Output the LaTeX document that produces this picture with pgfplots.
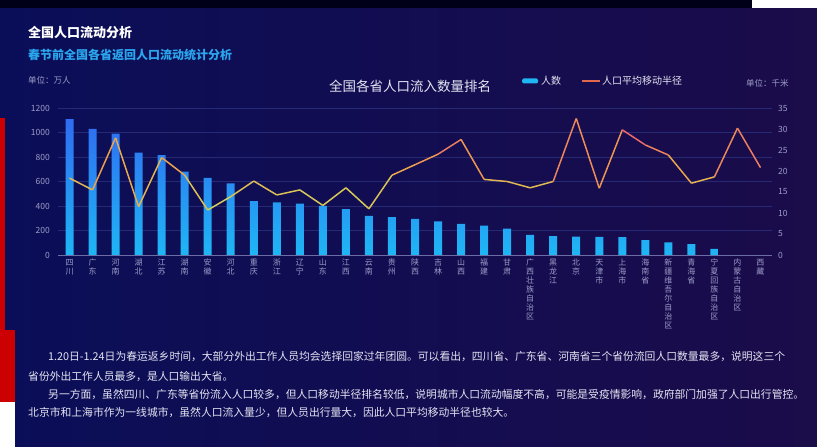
\documentclass[border=0pt]{standalone}
\usepackage{fontspec}
\setmainfont{Noto Sans CJK SC}
\usepackage{pgfplots}
\usepackage{pgfplotstable}
\pgfplotsset{compat=1.18}

\definecolor{bgL}{HTML}{0A0E58}
\definecolor{bgR}{HTML}{1B0C4A}
\definecolor{barTop}{HTML}{2F6CF2}
\definecolor{barBot}{HTML}{1FB6F4}
\definecolor{tickcol}{HTML}{9C9CC8}
\definecolor{gridcol}{HTML}{262A74}
\definecolor{axiscol}{HTML}{6C6CA6}
\definecolor{subcol}{HTML}{2AA6EE}
\definecolor{txtcol}{HTML}{E4E4F2}
\definecolor{legline}{HTML}{E0684E}

\pgfplotsset{colormap={radius}{rgb255=(206,214,92) rgb255=(238,160,76) rgb255=(232,72,128)}}

% x: rank, bar: people (10k), r: mean moving radius (km)
\pgfplotstableread{
x  bar   r
0  1110  18.3
1  1030  15.5
2  990   27.9
3  835   11.5
4  815   23.2
5  680   19.0
6  630   10.7
7  585   13.9
8  440   17.6
9  430   14.3
10 420   15.5
11 400   11.8
12 375   16.0
13 320   11.0
14 310   19.0
15 295   21.5
16 275   24.0
17 255   27.5
18 240   18.0
19 215   17.5
20 165   16.0
21 155   17.5
22 150   32.5
23 148   15.9
24 145   29.8
25 122   26.2
26 103   23.8
27 88    17.1
28 50    18.6
29 nan   30.2
30 nan   20.8
}\datatable

\begin{document}
\begin{tikzpicture}
\useasboundingbox (0,0) rectangle (817bp,447bp);
% background panel and screenshot edges
\shade[left color=bgL, right color=bgR] (0,0) rectangle (817bp,447bp);
\fill[black!90!blue] (0,439bp) rectangle (817bp,447bp);
\fill[white] (752bp,439bp) rectangle (817bp,447bp);
\fill[red!80!black] (0,117bp) rectangle (5bp,329bp);
\fill[red!80!black] (0,45bp) rectangle (15bp,117bp);
\fill[white] (0,0) rectangle (15bp,45bp);

% headings
\node[anchor=base west, inner sep=0, text=white, font=\fontsize{13bp}{15bp}\selectfont\bfseries] at (28bp,409bp) {全国人口流动分析};
\node[anchor=base west, inner sep=0, text=subcol, font=\fontsize{12bp}{14bp}\selectfont\bfseries] at (28bp,387bp) {春节前全国各省返回人口流动统计分析};
\node[anchor=base west, inner sep=0, text=tickcol, font=\fontsize{8.5bp}{10bp}\selectfont] at (28bp,363.5bp) {单位：万人};
\node[anchor=base, inner sep=0, text=txtcol, font=\fontsize{13.5bp}{15bp}\selectfont] at (410bp,355bp) {全国各省人口流入数量排名};
\node[anchor=base west, inner sep=0, text=tickcol, font=\fontsize{8.5bp}{10bp}\selectfont] at (746bp,360.5bp) {单位：千米};

% legend
\fill[barBot, rounded corners=1.5bp] (522bp,363.5bp) rectangle (538bp,368.5bp);
\node[anchor=base west, inner sep=0, text=txtcol, font=\fontsize{10bp}{12bp}\selectfont] at (541bp,362bp) {人数};
\draw[legline, line width=1.5bp] (582bp,366bp) -- (600bp,366bp);
\node[anchor=base west, inner sep=0, text=txtcol, font=\fontsize{10bp}{12bp}\selectfont] at (602bp,362bp) {人口平均移动半径};

% bars: people
\begin{axis}[
  at={(58bp,192bp)}, anchor=south west, scale only axis,
  width=714bp, height=147bp,
  xmin=-0.5, xmax=30.5, ymin=0, ymax=1200,
  axis x line*=bottom, axis y line*=left,
  separate axis lines,
  x axis line style={draw=axiscol, line width=0.6bp, -},
  y axis line style={draw=none},
  major tick length=0pt,
  xtick={0,...,30},
  xticklabels={{四\\川},{广\\东},{河\\南},{湖\\北},{江\\苏},{湖\\南},{安\\徽},{河\\北},{重\\庆},{浙\\江},{辽\\宁},{山\\东},{江\\西},{云\\南},{贵\\州},{陕\\西},{吉\\林},{山\\西},{福\\建},{甘\\肃},{广\\西\\壮\\族\\自\\治\\区},{黑\\龙\\江},{北\\京},{天\\津\\市},{上\\海\\市},{海\\南\\省},{新\\疆\\维\\吾\\尔\\自\\治\\区},{青\\海\\省},{宁\\夏\\回\\族\\自\\治\\区},{内\\蒙\\古\\自\\治\\区},{西\\藏}},
  xticklabel style={align=center, anchor=north, inner sep=0pt, yshift=-4bp, text=tickcol, font=\fontsize{8bp}{9bp}\selectfont},
  ytick={0,200,...,1200},
  yticklabel style={anchor=east, inner sep=0pt, xshift=-8bp, text=tickcol, font=\fontsize{8.5bp}{10bp}\selectfont},
  /pgf/number format/assume math mode=true,
  /pgf/number format/1000 sep={},
  ymajorgrids, grid style={gridcol, line width=0.6bp},
  clip=false,
]
  \addplot[ybar, bar width=8bp, bar shift=0pt, draw=none, top color=barTop, bottom color=barBot]
    table[x=x, y=bar] {\datatable};
\end{axis}

% line: mean moving radius
\begin{axis}[
  at={(58bp,192bp)}, anchor=south west, scale only axis,
  width=714bp, height=147bp,
  xmin=-0.5, xmax=30.5, ymin=0, ymax=35,
  axis x line=none, axis y line*=right,
  y axis line style={draw=none},
  major tick length=0pt,
  ytick={0,5,...,35},
  yticklabel style={anchor=west, inner sep=0pt, xshift=6bp, text=tickcol, font=\fontsize{8.5bp}{10bp}\selectfont},
  /pgf/number format/assume math mode=true,
  colormap name=radius, point meta min=11, point meta max=32,
  clip=false,
]
  \addplot[mesh, line width=1.5bp, point meta=\thisrow{r}]
    table[x=x, y=r] {\datatable};
\end{axis}

% commentary
\begin{scope}[every node/.style={anchor=base west, inner sep=0, text=txtcol, font=\fontsize{10.8bp}{12bp}\selectfont}]
\node at (48bp,86bp) {1.20日-1.24日为春运返乡时间，大部分外出工作人员均会选择回家过年团圆。可以看出，四川省、广东省、河南省三个省份流回人口数量最多，说明这三个};
\node at (28bp,66bp) {省份外出工作人员最多，是人口输出大省。};
\node at (48bp,48bp) {另一方面，虽然四川、广东等省份流入人口较多，但人口移动半径排名较低，说明城市人口流动幅度不高，可能是受疫情影响，政府部门加强了人口出行管控。};
\node at (28bp,31bp) {北京市和上海市作为一线城市，虽然人口流入量少，但人员出行量大，因此人口平均移动半径也较大。};
\end{scope}
\end{tikzpicture}
\end{document}
